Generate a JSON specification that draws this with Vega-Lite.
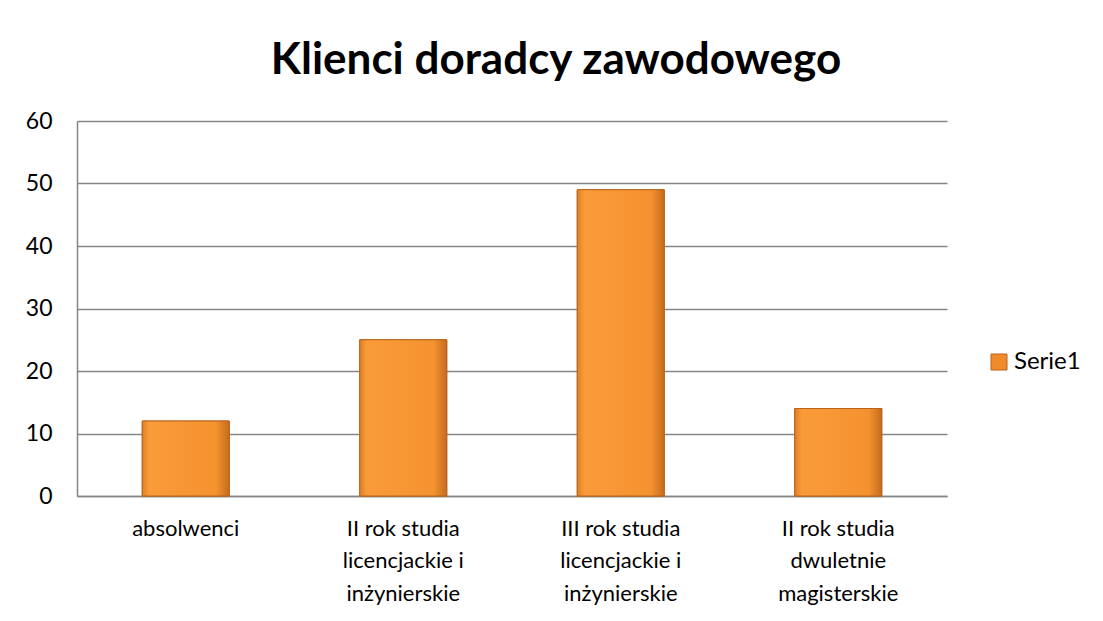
{
  "$schema": "https://vega.github.io/schema/vega-lite/v6.json",
  "autosize": "none",
  "width": 870,
  "height": 375,
  "padding": {"left": 77, "top": 121, "right": 156, "bottom": 125},
  "background": "white",
  "title": {
    "text": "Klienci doradcy zawodowego",
    "font": "Lato",
    "fontSize": 44,
    "fontWeight": "bold",
    "color": "#000000",
    "anchor": "middle",
    "dx": 44,
    "offset": 27
  },
  "data": {
    "values": [
      {"kategoria": "absolwenci", "wartosc": 12, "seria": "Serie1"},
      {"kategoria": "II rok studia|licencjackie i|inżynierskie", "wartosc": 25, "seria": "Serie1"},
      {"kategoria": "III rok studia|licencjackie i|inżynierskie", "wartosc": 49, "seria": "Serie1"},
      {"kategoria": "II rok studia|dwuletnie|magisterskie", "wartosc": 14, "seria": "Serie1"}
    ]
  },
  "encoding": {
    "x": {
      "field": "kategoria",
      "type": "nominal",
      "sort": null,
      "scale": {"paddingInner": 0.6, "paddingOuter": 0.3},
      "axis": {
        "title": null,
        "labelAngle": 0,
        "labelExpr": "split(datum.label, '|')",
        "labelFont": "Lato",
        "labelFontSize": 22,
        "labelColor": "#000000",
        "labelLineHeight": 32.5,
        "labelBaseline": "top",
        "labelPadding": 22,
        "ticks": false,
        "domainColor": "#868686",
        "domainWidth": 1.5,
        "labelLimit": 300
      }
    },
    "y": {
      "field": "wartosc",
      "type": "quantitative",
      "scale": {"domain": [0, 60], "nice": false},
      "axis": {
        "title": null,
        "values": [0, 10, 20, 30, 40, 50, 60],
        "labelFont": "Lato",
        "labelFontSize": 23,
        "labelColor": "#000000",
        "labelPadding": 25,
        "ticks": false,
        "grid": true,
        "gridColor": "#868686",
        "gridWidth": 1.5,
        "domainColor": "#868686",
        "domainWidth": 1.5
      }
    }
  },
  "layer": [
    {
      "mark": {"type": "bar", "stroke": "#B9641C", "strokeWidth": 1},
      "encoding": {
        "color": {
          "field": "seria",
          "type": "nominal",
          "scale": {"range": ["#F08A2A"]},
          "legend": {
            "title": null,
            "orient": "none",
            "legendX": 910,
            "legendY": 229,
            "symbolType": "square",
            "symbolSize": 256,
            "symbolStrokeColor": "#B9641C",
            "symbolStrokeWidth": 1,
            "labelFont": "Lato",
            "labelFontSize": 24,
            "labelColor": "#000000",
            "labelOffset": 3
          }
        }
      }
    },
    {
      "mark": {
        "type": "bar",
        "stroke": "#B9641C",
        "strokeWidth": 1,
        "color": {"gradient": "linear", "x1": 0, "y1": 0, "x2": 1, "y2": 0, "stops": [{"offset": 0, "color": "#E07F26"}, {"offset": 0.08, "color": "#FA9B3A"}, {"offset": 0.85, "color": "#F5922F"}, {"offset": 1, "color": "#C46C1E"}]}
      }
    }
  ],
  "config": {
    "view": {"stroke": null}
  }
}
